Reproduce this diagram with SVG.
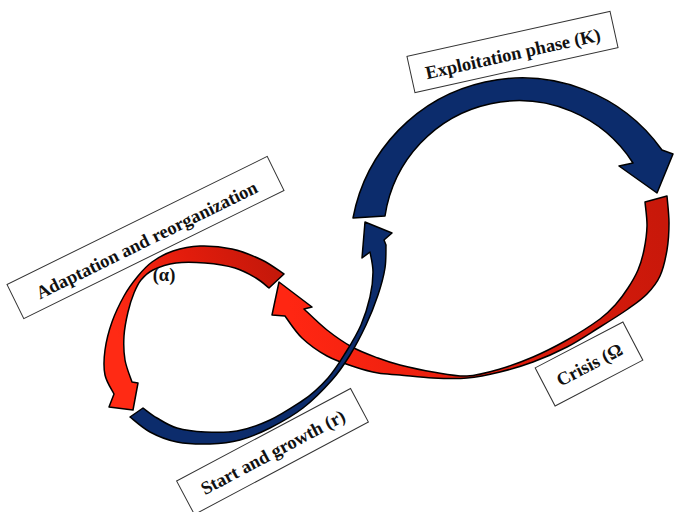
<svg xmlns="http://www.w3.org/2000/svg" width="675" height="512" viewBox="0 0 675 512">
<defs>
<linearGradient id="gRedLeft" gradientUnits="userSpaceOnUse" x1="275" y1="265" x2="115" y2="330">
<stop offset="0" stop-color="#c4180a"/>
<stop offset="0.45" stop-color="#e21c0c"/>
<stop offset="1" stop-color="#ff2a14"/>
</linearGradient>
<linearGradient id="gRedBig" gradientUnits="userSpaceOnUse" x1="660" y1="210" x2="290" y2="310">
<stop offset="0" stop-color="#c8180a"/>
<stop offset="0.5" stop-color="#e01c0c"/>
<stop offset="1" stop-color="#ff2612"/>
</linearGradient>
</defs>
<style>
.arr{stroke:#000;stroke-width:1.5;stroke-linejoin:round}
.blue{fill:#0c2c6c}
.box{fill:#fff;stroke:#333;stroke-width:1}
.lbl{font-family:"Liberation Serif","Times New Roman",serif;font-weight:bold;font-size:18.5px;fill:#111;text-anchor:middle}
</style>
<rect width="675" height="512" fill="#fff"/>
<g id="connectors">
<path id="arrow-adaptation" class="arr" fill="url(#gRedLeft)" d="M284,274 C280.3,271.7 270.7,264.2 262,260 C253.3,255.8 242.3,251.3 232,249 C221.7,246.7 209.8,245.7 200,246 C190.2,246.3 181,248.3 173,251 C165,253.7 157.8,257.8 152,262 C146.2,266.2 142.7,270.3 138,276 C133.3,281.7 128.3,288.3 124,296 C119.7,303.7 115.2,313 112,322 C108.8,331 106.2,341.2 105,350 C103.8,358.8 103.5,367.7 105,375 C106.5,382.3 112.5,390.8 114,394 L109,407 L133,410 L138,383 L132,382 C130.8,378.3 126.3,367.7 125,360 C123.7,352.3 123.5,344 124,336 C124.5,328 126.3,319.2 128,312 C129.7,304.8 131.8,298.3 134,293 C136.2,287.7 137.8,283.8 141,280 C144.2,276.2 147.2,272.8 153,270 C158.8,267.2 167.3,264.2 176,263 C184.7,261.8 195.2,262.2 205,263 C214.8,263.8 226.5,265.5 235,268 C243.5,270.5 250.3,274.7 256,278 C261.7,281.3 266.8,286.3 269,288 Z"/>
<path id="arrow-crisis" class="arr" fill="url(#gRedBig)" d="M645,202 L667,196 C667.3,200.5 669,214 669,223 C669,232 668.5,241.2 667,250 C665.5,258.8 663.3,268.7 660,276 C656.7,283.3 652.3,288.5 647,294 C641.7,299.5 635.8,303.5 628,309 C620.2,314.5 610.2,320.7 600,327 C589.8,333.3 578.2,341.2 567,347 C555.8,352.8 544.2,357.8 533,362 C521.8,366.2 511,369.3 500,372 C489,374.7 478.2,377 467,378 C455.8,379 444.2,378.5 433,378 C421.8,377.5 409.2,375.8 400,375 C390.8,374.2 385.5,374.3 378,373 C370.5,371.7 363.5,369.8 355,367 C346.5,364.2 335.8,360.8 327,356 C318.2,351.2 309,344.7 302,338 C295,331.3 287.8,319.7 285,316 L272,315 L279,282 L312,307 L304,309 C307.8,312.5 319,323.7 327,330 C335,336.3 343.5,342.3 352,347 C360.5,351.7 370,355 378,358 C386,361 390.8,362.7 400,365 C409.2,367.3 421.8,370.2 433,372 C444.2,373.8 455.8,376.5 467,376 C478.2,375.5 489,372.2 500,369 C511,365.8 521.8,361.8 533,357 C544.2,352.2 555.8,346.3 567,340 C578.2,333.7 591.8,325 600,319 C608.2,313 611.3,309.2 616,304 C620.7,298.8 624.3,293.7 628,288 C631.7,282.3 635.3,276.3 638,270 C640.7,263.7 642.5,257.3 644,250 C645.5,242.7 646.8,234 647,226 C647.2,218 645.3,206 645,202 Z"/>
<path id="arrow-exploitation" class="arr blue" d="M353,218 A172,172 0 0 1 662,150 L673,154 L657,193 L619,166 L633,163 A135.5,135.5 0 0 0 385,216 Z"/>
<path id="arrow-growth" class="arr blue" d="M130,417 C133.3,419.5 142.2,427.8 150,432 C157.8,436.2 167,440 177,442 C187,444 199.5,444.3 210,444 C220.5,443.7 230,442.7 240,440 C250,437.3 259.5,433.3 270,428 C280.5,422.7 292.7,416 303,408 C313.3,400 324.2,388.8 332,380 C339.8,371.2 344.3,364.2 350,355 C355.7,345.8 361.3,335 366,325 C370.7,315 374.8,304.5 378,295 C381.2,285.5 383.7,276.3 385,268 C386.3,259.7 385.8,248.8 386,245 L384,240 L392,233 L365,222 L362,258 L370,252 C370.5,255.3 373,264.5 373,272 C373,279.5 372,288.2 370,297 C368,305.8 365,315.8 361,325 C357,334.2 351.5,343.2 346,352 C340.5,360.8 335.3,369.8 328,378 C320.7,386.2 312.8,394 302,401 C291.2,408 280.8,415 270,420 C259.2,425 247.8,429 237,431 C226.2,433 215,432.5 205,432 C195,431.5 185,430.3 177,428 C169,425.7 162.7,421.3 157,418 C151.3,414.7 145.3,409.7 143,408 Z"/>
</g>
<g id="node-adaptation">
<g transform="translate(145.5,237.5) rotate(-26.2)">
<rect class="box" x="-145" y="-19" width="290" height="38"/>
<text class="lbl" x="0" y="9">Adaptation and reorganization</text>
</g>
<text class="lbl" x="164" y="281">(α)</text>
</g>
<g id="node-exploitation" transform="translate(512.5,52) rotate(-12.5)">
<rect class="box" x="-104" y="-18.5" width="208" height="37"/>
<text class="lbl" x="0" y="8">Exploitation phase (K)</text>
</g>
<g id="node-growth" transform="translate(272.5,451.5) rotate(-28)">
<rect class="box" x="-98.5" y="-19" width="197" height="38"/>
<text class="lbl" x="0" y="7">Start and growth (r)</text>
</g>
<g id="node-crisis" transform="translate(589,364) rotate(-27.6)">
<rect class="box" x="-49.5" y="-21.5" width="99" height="43"/>
<text class="lbl" x="0" y="7">Crisis (Ω</text>
</g>
</svg>
